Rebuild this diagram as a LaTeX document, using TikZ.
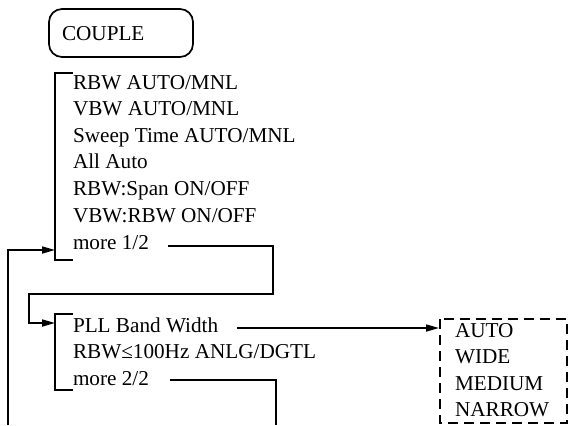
\documentclass[tikz,border=0pt]{standalone}
\usepackage{fontspec}
\setmainfont{Liberation Serif}
\usetikzlibrary{arrows.meta}
\begin{document}
\begin{tikzpicture}[x=1bp,y=-1bp,
  every node/.style={inner sep=0pt,outer sep=0pt,font=\fontsize{21.2bp}{24bp}\selectfont},
  item/.style={anchor=base west},
  ln/.style={line width=1.7bp,line join=miter},
  arr/.style={ln,-{Triangle[length=13bp,width=7bp]}},
  dashbox/.style={ln,dash pattern=on 10bp off 6bp}]
\useasboundingbox (0,0) rectangle (568,425);
% COUPLE key
\draw[ln,rounded corners=13bp] (49,9) rectangle (193,57);
\node[item] (couple) at (62,40) {COUPLE};
% first menu
\draw[ln] (73,73) -- (55,73) -- (55,260) -- (73,260);
\node[item] (a1) at (73,89) {RBW AUTO/MNL};
\node[item] (a2) at (73,115.5) {VBW AUTO/MNL};
\node[item] (a3) at (73,142) {Sweep Time AUTO/MNL};
\node[item] (a4) at (73,168.5) {All Auto};
\node[item] (a5) at (73,195.5) {RBW:Span ON/OFF};
\node[item] (a6) at (73,222) {VBW:RBW ON/OFF};
\node[item] (a7) at (73,249) {more 1/2};
% second menu
\draw[ln] (73,314) -- (55,314) -- (55,390) -- (73,390);
\node[item] (b1) at (73,332) {PLL Band Width};
\node[item] (b2) at (73,358.5) {RBW≤100Hz ANLG/DGTL};
\node[item] (b3) at (73,385) {more 2/2};
% PLL sub menu
\draw[dashbox] (440,319) rectangle (567,423);
\node[item] (c1) at (455,337) {AUTO};
\node[item] (c2) at (455,363.5) {WIDE};
\node[item] (c3) at (455,390) {MEDIUM};
\node[item] (c4) at (455,416.5) {NARROW};
% connector points
\coordinate (m1s) at (168,246);
\coordinate (m1a) at (273,246);
\coordinate (m1b) at (273,294);
\coordinate (m1c) at (29,294);
\coordinate (m1d) at (29,323);
\coordinate (m1t) at (55,323);
\coordinate (ps) at (237,328);
\coordinate (pt) at (439,328);
\coordinate (m2s) at (170,380);
\coordinate (m2a) at (276,380);
\coordinate (m2b) at (276,425);
\coordinate (lb) at (8,425);
\coordinate (la) at (8,250);
\coordinate (lt) at (55,250);
% connectors
\draw[arr] (m1s) -- (m1a) -- (m1b) -- (m1c) -- (m1d) -- (m1t);
\draw[arr] (ps) -- (pt);
\draw[ln] (m2s) -- (m2a) -- (m2b);
\draw[arr] (lb) -- (la) -- (lt);
\end{tikzpicture}
\end{document}
